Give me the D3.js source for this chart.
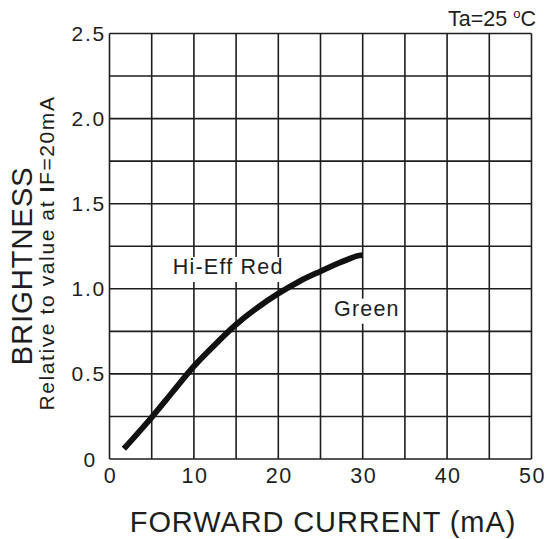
<!DOCTYPE html>
<html><head><meta charset="utf-8">
<script src="https://cdn.jsdelivr.net/npm/d3@7"></script>
<style>
html,body{margin:0;padding:0;background:#fff;}
svg{display:block;font-family:"Liberation Sans",Arial,sans-serif;}
</style></head>
<body>
<script>
// Data
const currentMA = [1.7, 5, 7.5, 10, 12.5, 15, 17.5, 20, 22.5, 25, 27, 28.5, 29.3, 30];
const brightness = [0.06, 0.245, 0.395, 0.545, 0.672, 0.79, 0.888, 0.972, 1.044, 1.103, 1.148, 1.178, 1.193, 1.198];
const xTicks = [0, 10, 20, 30, 40, 50];
const yTicks = [0, 0.5, 1.0, 1.5, 2.0, 2.5];
const yTickLabels = ["0", "0.5", "1.0", "1.5", "2.0", "2.5"];
const seriesLabels = ["Hi-Eff Red", "Green"];
const labelPos = [[7.5, 1.087], [26.6, 0.842]]; // label anchor (mA, brightness)

const W = 547, H = 539;
const svg = d3.select("body").append("svg").attr("width", W).attr("height", H);
const x = d3.scaleLinear().domain([0, 50]).range([109.5, 531.5]);
const y = d3.scaleLinear().domain([0, 2.5]).range([459, 33.5]);
const ink = "#1e1e1e";

// Grid
const g = svg.append("g");
g.selectAll(".vx").data(d3.range(0, 50.01, 5)).enter().append("line")
  .attr("x1", d => x(d)).attr("x2", d => x(d))
  .attr("y1", y(0)).attr("y2", y(2.5))
  .attr("stroke", ink).attr("stroke-width", 1.6);
g.selectAll(".hy").data(d3.range(0, 2.51, 0.25)).enter().append("line")
  .attr("x1", x(0)).attr("x2", x(50))
  .attr("y1", d => y(d)).attr("y2", d => y(d))
  .attr("stroke", ink).attr("stroke-width", 1.6);

// Series labels with white backgrounds
seriesLabels.forEach((t, i) => {
  const lg = svg.append("g");
  const tx = lg.append("text").text(t)
    .attr("x", x(labelPos[i][0])).attr("y", y(labelPos[i][1]))
    .attr("font-size", 21.5).attr("letter-spacing", 1.2).attr("fill", ink);
  const bb = tx.node().getBBox();
  lg.insert("rect", "text").attr("x", bb.x - 5).attr("y", bb.y + 2)
    .attr("width", bb.width + 4).attr("height", bb.height + 1).attr("fill", "#fff");
});

// Curve
const line = d3.line().x((d, i) => x(currentMA[i])).y(d => y(d)).curve(d3.curveCatmullRom.alpha(0.5));
svg.append("path").attr("d", line(brightness))
  .attr("fill", "none").attr("stroke", "#111").attr("stroke-width", 5.8);

// X tick labels
svg.selectAll(".xt").data(xTicks).enter().append("text")
  .attr("x", d => x(d) + 1).attr("y", 483)
  .attr("text-anchor", "middle").attr("font-size", 21.5).attr("letter-spacing", 1.5)
  .attr("fill", ink).text(d => d);

// Y tick labels
svg.selectAll(".yt").data(yTicks).enter().append("text")
  .attr("x", (d, i) => i === 0 ? 97 : 106).attr("y", d => y(d) + 7.5)
  .attr("text-anchor", "end").attr("font-size", 21).attr("letter-spacing", 1.8)
  .attr("fill", ink).text((d, i) => yTickLabels[i]);

// Ta label
const ta = svg.append("text").attr("x", 536).attr("y", 26).attr("text-anchor", "end")
  .attr("font-size", 21.5).attr("fill", ink);
ta.append("tspan").text("Ta=25 ");
ta.append("tspan").text("o").attr("font-size", 13).attr("dy", -8);
ta.append("tspan").text("C").attr("dy", 8);

// Axis titles
svg.append("text").attr("x", 323).attr("y", 532).attr("text-anchor", "middle")
  .attr("font-size", 29).attr("letter-spacing", 0.9).attr("fill", ink)
  .text("FORWARD CURRENT (mA)");
svg.append("text").attr("transform", "translate(32,266) rotate(-90)")
  .attr("text-anchor", "middle").attr("font-size", 29.5).attr("letter-spacing", 0.7)
  .attr("fill", ink).text("BRIGHTNESS");
const sub = svg.append("text").attr("transform", "translate(54,253) rotate(-90)")
  .attr("text-anchor", "middle").attr("font-size", 21).attr("letter-spacing", 1.6)
  .attr("fill", ink);
sub.append("tspan").text("Relative to value at ");
sub.append("tspan").text("I").attr("font-weight", "bold");
sub.append("tspan").text("F=20mA");
</script>
</body></html>
